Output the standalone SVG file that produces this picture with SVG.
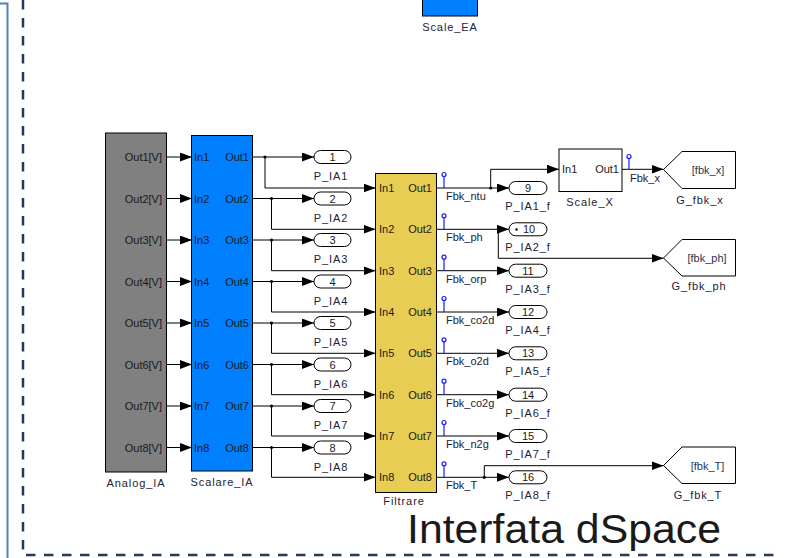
<svg xmlns="http://www.w3.org/2000/svg" width="787" height="558" viewBox="0 0 787 558">
  <defs>
    <marker id="ah" markerWidth="12" markerHeight="9" refX="12" refY="4.5" orient="auto" markerUnits="userSpaceOnUse">
      <path d="M0,0L12,4.5L0,9z" fill="#000"/>
    </marker>
    <style>
      text { font-family: "Liberation Sans", Arial, sans-serif; fill: #1a1a1a; }
      .port { font-size: 11px; }
      .pr { font-size: 11px; text-anchor: end; }
      .name { font-size: 11px; letter-spacing: 0.9px; text-anchor: middle; fill: #1e2236; }
      .sig { font-size: 11px; fill: #1e2236; }
      .num { font-size: 11px; text-anchor: middle; }
      .blk { stroke: #000; stroke-width: 1; }
      .oval { fill: #fff; stroke: #000; stroke-width: 1; }
      .wire { fill: none; stroke: #000; stroke-width: 1; }
      .arr { fill: none; stroke: #000; stroke-width: 1; marker-end: url(#ah); }
      .dot { fill: #000; }
      .tp { fill: none; stroke: #1a1aff; stroke-width: 1.2; }
      .tag { font-size: 11px; text-anchor: middle; fill: #2a3350; }
    </style>
  </defs>

  <rect width="787" height="558" fill="#fff"/>

  <!-- outer frame -->
  <path d="M0,3.5H7.5V558" fill="none" stroke="#4f81bd" stroke-width="2"/>
  <path d="M23,0V555H778" fill="none" stroke="#243a56" stroke-width="2.5" stroke-dasharray="9.5,8.5"/>

  <!-- Scale_EA (cut at top edge) -->
  <g id="Scale_EA">
    <rect class="blk" x="422.5" y="-10" width="55" height="26" fill="#0080ff"/>
    <text class="name" x="450" y="31">Scale_EA</text>
  </g>

  <!-- Analog_IA -->
  <g id="Analog_IA">
    <rect class="blk" x="105.5" y="133" width="61" height="339" fill="#808080"/>
    <text class="pr" x="162" y="161">Out1[V]</text>
    <text class="pr" x="162" y="202.5">Out2[V]</text>
    <text class="pr" x="162" y="244">Out3[V]</text>
    <text class="pr" x="162" y="285.5">Out4[V]</text>
    <text class="pr" x="162" y="327">Out5[V]</text>
    <text class="pr" x="162" y="368.5">Out6[V]</text>
    <text class="pr" x="162" y="410">Out7[V]</text>
    <text class="pr" x="162" y="451.5">Out8[V]</text>
    <text class="name" x="136" y="487">Analog_IA</text>
  </g>

  <!-- Scalare_IA -->
  <g id="Scalare_IA">
    <rect class="blk" x="191.5" y="135.5" width="61" height="335.5" fill="#0080ff"/>
    <text class="port" x="194" y="161">In1</text>
    <text class="port" x="194" y="202.5">In2</text>
    <text class="port" x="194" y="244">In3</text>
    <text class="port" x="194" y="285.5">In4</text>
    <text class="port" x="194" y="327">In5</text>
    <text class="port" x="194" y="368.5">In6</text>
    <text class="port" x="194" y="410">In7</text>
    <text class="port" x="194" y="451.5">In8</text>
    <text class="pr" x="249" y="161">Out1</text>
    <text class="pr" x="249" y="202.5">Out2</text>
    <text class="pr" x="249" y="244">Out3</text>
    <text class="pr" x="249" y="285.5">Out4</text>
    <text class="pr" x="249" y="327">Out5</text>
    <text class="pr" x="249" y="368.5">Out6</text>
    <text class="pr" x="249" y="410">Out7</text>
    <text class="pr" x="249" y="451.5">Out8</text>
    <text class="name" x="222" y="486">Scalare_IA</text>
  </g>

  <!-- Outports P_IA1..P_IA8 -->
  <g id="P_IA1"><rect class="oval" x="314" y="150.5" width="37" height="13" rx="6.5"/><text class="num" x="332.5" y="161">1</text><text class="name" x="331" y="180">P_IA1</text></g>
  <g id="P_IA2"><rect class="oval" x="314" y="192" width="37" height="13" rx="6.5"/><text class="num" x="332.5" y="202.5">2</text><text class="name" x="331" y="221.5">P_IA2</text></g>
  <g id="P_IA3"><rect class="oval" x="314" y="233.5" width="37" height="13" rx="6.5"/><text class="num" x="332.5" y="244">3</text><text class="name" x="331" y="263">P_IA3</text></g>
  <g id="P_IA4"><rect class="oval" x="314" y="275" width="37" height="13" rx="6.5"/><text class="num" x="332.5" y="285.5">4</text><text class="name" x="331" y="304.5">P_IA4</text></g>
  <g id="P_IA5"><rect class="oval" x="314" y="316.5" width="37" height="13" rx="6.5"/><text class="num" x="332.5" y="327">5</text><text class="name" x="331" y="346">P_IA5</text></g>
  <g id="P_IA6"><rect class="oval" x="314" y="358" width="37" height="13" rx="6.5"/><text class="num" x="332.5" y="368.5">6</text><text class="name" x="331" y="387.5">P_IA6</text></g>
  <g id="P_IA7"><rect class="oval" x="314" y="399.5" width="37" height="13" rx="6.5"/><text class="num" x="332.5" y="410">7</text><text class="name" x="331" y="429">P_IA7</text></g>
  <g id="P_IA8"><rect class="oval" x="314" y="441" width="37" height="13" rx="6.5"/><text class="num" x="332.5" y="451.5">8</text><text class="name" x="331" y="470.5">P_IA8</text></g>

  <!-- Filtrare -->
  <g id="Filtrare">
    <rect class="blk" x="375.5" y="173.5" width="61" height="319" fill="#e8cd55"/>
    <text class="port" x="379" y="192">In1</text>
    <text class="port" x="379" y="233.3">In2</text>
    <text class="port" x="379" y="274.7">In3</text>
    <text class="port" x="379" y="316">In4</text>
    <text class="port" x="379" y="357.3">In5</text>
    <text class="port" x="379" y="398.7">In6</text>
    <text class="port" x="379" y="440">In7</text>
    <text class="port" x="379" y="481.3">In8</text>
    <text class="pr" x="432" y="192">Out1</text>
    <text class="pr" x="432" y="233.3">Out2</text>
    <text class="pr" x="432" y="274.7">Out3</text>
    <text class="pr" x="432" y="316">Out4</text>
    <text class="pr" x="432" y="357.3">Out5</text>
    <text class="pr" x="432" y="398.7">Out6</text>
    <text class="pr" x="432" y="440">Out7</text>
    <text class="pr" x="432" y="481.3">Out8</text>
    <text class="name" x="404" y="505">Filtrare</text>
  </g>

  <!-- Outports P_IA1_f..P_IA8_f -->
  <g id="P_IA1_f"><rect class="oval" x="509" y="181.5" width="38" height="13" rx="6.5"/><text class="num" x="528" y="192">9</text><text class="name" x="528" y="210">P_IA1_f</text></g>
  <g id="P_IA2_f"><rect class="oval" x="509" y="222.8" width="38" height="13" rx="6.5"/><circle class="dot" cx="516.5" cy="229.5" r="1.2"/><text class="num" x="529" y="233.3">10</text><text class="name" x="528" y="251.3">P_IA2_f</text></g>
  <g id="P_IA3_f"><rect class="oval" x="509" y="264.2" width="38" height="13" rx="6.5"/><text class="num" x="528" y="274.7">11</text><text class="name" x="528" y="292.7">P_IA3_f</text></g>
  <g id="P_IA4_f"><rect class="oval" x="509" y="305.5" width="38" height="13" rx="6.5"/><text class="num" x="528" y="316">12</text><text class="name" x="528" y="334">P_IA4_f</text></g>
  <g id="P_IA5_f"><rect class="oval" x="509" y="346.8" width="38" height="13" rx="6.5"/><text class="num" x="528" y="357.3">13</text><text class="name" x="528" y="375.3">P_IA5_f</text></g>
  <g id="P_IA6_f"><rect class="oval" x="509" y="388.2" width="38" height="13" rx="6.5"/><text class="num" x="528" y="398.7">14</text><text class="name" x="528" y="416.7">P_IA6_f</text></g>
  <g id="P_IA7_f"><rect class="oval" x="509" y="429.5" width="38" height="13" rx="6.5"/><text class="num" x="528" y="440">15</text><text class="name" x="528" y="458">P_IA7_f</text></g>
  <g id="P_IA8_f"><rect class="oval" x="509" y="470.8" width="38" height="13" rx="6.5"/><text class="num" x="528" y="481.3">16</text><text class="name" x="528" y="499.3">P_IA8_f</text></g>

  <!-- Scale_X -->
  <g id="Scale_X">
    <rect class="blk" x="559" y="149" width="63" height="42.5" fill="#fff"/>
    <text class="port" x="562" y="173.3">In1</text>
    <text class="pr" x="619" y="173.3">Out1</text>
    <text class="name" x="590" y="206">Scale_X</text>
  </g>

  <!-- Goto blocks -->
  <g id="G_fbk_x">
    <path class="blk" d="M663.5,169.5L682,151.5H735.5V188.5H682Z" fill="#fff"/>
    <text class="tag" x="708" y="173.5">[fbk_x]</text>
    <text class="name" x="700" y="204">G_fbk_x</text>
  </g>
  <g id="G_fbk_ph">
    <path class="blk" d="M663.5,258L682,239.5H735.5V276H682Z" fill="#fff"/>
    <text class="tag" x="707" y="262">[fbk_ph]</text>
    <text class="name" x="699" y="290">G_fbk_ph</text>
  </g>
  <g id="G_fbk_T">
    <path class="blk" d="M663.5,465.5L682,447H735.5V483.5H682Z" fill="#fff"/>
    <text class="tag" x="707.5" y="469.5">[fbk_T]</text>
    <text class="name" x="698" y="499">G_fbk_T</text>
  </g>

  <!-- connectors -->
  <g id="connectors">
    <!-- Analog_IA to Scalare_IA -->
    <path class="arr" d="M167,157H192"/>
    <path class="arr" d="M167,198.5H192"/>
    <path class="arr" d="M167,240H192"/>
    <path class="arr" d="M167,281.5H192"/>
    <path class="arr" d="M167,323H192"/>
    <path class="arr" d="M167,364.5H192"/>
    <path class="arr" d="M167,406H192"/>
    <path class="arr" d="M167,447.5H192"/>

    <!-- Scalare_IA to outports -->
    <path class="arr" d="M252,157H314"/>
    <path class="arr" d="M252,198.5H314"/>
    <path class="arr" d="M252,240H314"/>
    <path class="arr" d="M252,281.5H314"/>
    <path class="arr" d="M252,323H314"/>
    <path class="arr" d="M252,364.5H314"/>
    <path class="arr" d="M252,406H314"/>
    <path class="arr" d="M252,447.5H314"/>

    <!-- Scalare_IA branches to Filtrare -->
    <path class="arr" d="M265,157V188H375.5"/>
    <path class="arr" d="M271.5,198.5V229.3H375.5"/>
    <path class="arr" d="M271.5,240V270.7H375.5"/>
    <path class="arr" d="M271.5,281.5V312H375.5"/>
    <path class="arr" d="M271.5,323V353.3H375.5"/>
    <path class="arr" d="M271.5,364.5V394.7H375.5"/>
    <path class="arr" d="M271.5,406V436H375.5"/>
    <path class="arr" d="M271.5,447.5V477.3H375.5"/>
    <circle class="dot" cx="265" cy="157" r="1.6"/>
    <circle class="dot" cx="271.5" cy="198.5" r="1.6"/>
    <circle class="dot" cx="271.5" cy="240" r="1.6"/>
    <circle class="dot" cx="271.5" cy="281.5" r="1.6"/>
    <circle class="dot" cx="271.5" cy="323" r="1.6"/>
    <circle class="dot" cx="271.5" cy="364.5" r="1.6"/>
    <circle class="dot" cx="271.5" cy="406" r="1.6"/>
    <circle class="dot" cx="271.5" cy="447.5" r="1.6"/>

    <!-- Filtrare to outports -->
    <path class="arr" d="M436.5,188H509"/>
    <path class="arr" d="M436.5,229.3H509"/>
    <path class="arr" d="M436.5,270.7H509"/>
    <path class="arr" d="M436.5,312H509"/>
    <path class="arr" d="M436.5,353.3H509"/>
    <path class="arr" d="M436.5,394.7H509"/>
    <path class="arr" d="M436.5,436H509"/>
    <path class="arr" d="M436.5,477.3H509"/>

    <!-- Filtrare branches -->
    <path class="arr" d="M490.7,188V169.3H559"/>
    <circle class="dot" cx="490.7" cy="188" r="1.6"/>
    <path class="arr" d="M498.3,229.3V258.3H663.5"/>
    <path class="arr" d="M484.3,477.3V465.7H663.5"/>
    <circle class="dot" cx="484.3" cy="477.3" r="1.6"/>

    <!-- Scale_X to G_fbk_x -->
    <path class="arr" d="M622,169.3H663.5"/>

    <!-- test points -->
    <g class="tp">
      <path d="M444,176.5V188"/><circle cx="444" cy="174.5" r="2"/>
      <path d="M444,217.8V229.3"/><circle cx="444" cy="215.8" r="2"/>
      <path d="M444,259.2V270.7"/><circle cx="444" cy="257.2" r="2"/>
      <path d="M444,300.5V312"/><circle cx="444" cy="298.5" r="2"/>
      <path d="M444,341.8V353.3"/><circle cx="444" cy="339.8" r="2"/>
      <path d="M444,383.2V394.7"/><circle cx="444" cy="381.2" r="2"/>
      <path d="M444,424.5V436"/><circle cx="444" cy="422.5" r="2"/>
      <path d="M444,465.8V477.3"/><circle cx="444" cy="463.8" r="2"/>
      <path d="M629,158.5V169.3"/><circle cx="629" cy="156.5" r="2"/>
    </g>

    <!-- signal names -->
    <text class="sig" x="446" y="200">Fbk_ntu</text>
    <text class="sig" x="446" y="241.3">Fbk_ph</text>
    <text class="sig" x="446" y="282.7">Fbk_orp</text>
    <text class="sig" x="446" y="324">Fbk_co2d</text>
    <text class="sig" x="446" y="365.3">Fbk_o2d</text>
    <text class="sig" x="446" y="406.7">Fbk_co2g</text>
    <text class="sig" x="446" y="448">Fbk_n2g</text>
    <text class="sig" x="446" y="489.3">Fbk_T</text>
    <text class="sig" x="630" y="181.5">Fbk_x</text>
  </g>

  <!-- frame title -->
  <text x="407" y="543" font-family="Lato, 'Open Sans', sans-serif" font-size="40" textLength="314" lengthAdjust="spacingAndGlyphs" fill="#111">Interfata dSpace</text>
</svg>
